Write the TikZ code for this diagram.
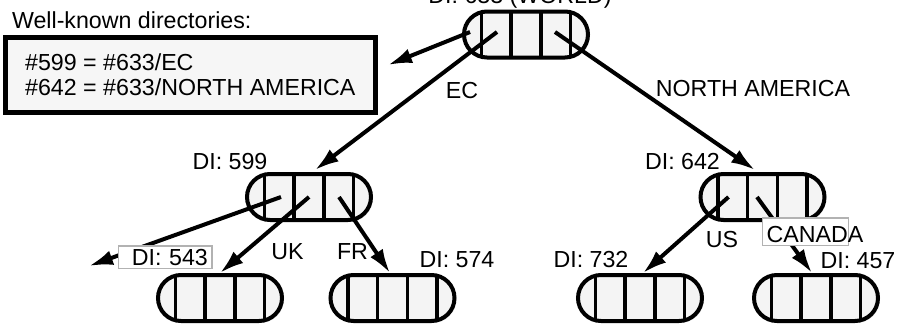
\documentclass[tikz,border=0pt]{standalone}
\usepackage{fontspec}
\setmainfont{Liberation Sans}
\usepackage{xcolor}
\usepackage{tikz}
\usetikzlibrary{arrows.meta,positioning,shadows}
\definecolor{cellgray}{HTML}{F4F4F4}
\definecolor{wkgray}{HTML}{F6F6F6}
\tikzset{
  dirnode/.style={rectangle, draw=black, fill=cellgray, line width=2pt,
    rounded corners=11.5pt, minimum width=62pt, minimum height=23pt, inner sep=0pt,
    drop shadow={shadow xshift=0.9pt, shadow yshift=-0.9pt, fill=black!18},
    path picture={
      \foreach \dx in {-22.25pt,-7.5pt,7.5pt,22.25pt}
        \draw[line width=1.8pt] ([xshift=\dx]path picture bounding box.north)
          -- ([xshift=\dx]path picture bounding box.south);
    }},
  wkbox/.style={rectangle, draw=black, line width=2.5pt, fill=wkgray,
    align=left, inner xsep=10pt, minimum height=37.5pt},
  lbl/.style={inner sep=0pt},
  tag/.style={rectangle, draw=black!30, fill=white, line width=0.6pt,
    inner xsep=2pt, inner ysep=1.5pt},
  link/.style={-{Latex[length=12pt,width=7.5pt]}, line width=2pt},
}

\begin{document}
\begin{tikzpicture}[font=\fontsize{11.6}{12.5}\selectfont]
    \useasboundingbox (0,0) rectangle (449.5pt,-163.5pt);

    \node[dirnode] (root) at (263pt,-17.25pt) {};
    \node[dirnode, below=56.25pt of root, xshift=-108.5pt] (d599) {};
    \node[dirnode, below=56.25pt of root, xshift=118.25pt] (d642) {};
    \node[dirnode, below=25.5pt of d599, xshift=-44.5pt] (d543) {};
    \node[dirnode, below=25.5pt of d599, xshift=41.75pt] (d574) {};
    \node[dirnode, below=25.5pt of d642, xshift=-61.25pt] (d732) {};
    \node[dirnode, below=25.5pt of d642, xshift=26.75pt] (d457) {};

    \node[wkbox, left=42pt of root, yshift=-20.25pt] (wk)
      {\#599 = \#633/EC\\ \#642 = \#633/NORTH AMERICA};
    \node[lbl, above right=3pt and 4.5pt of wk.north west] (wktitle) {Well-known directories:};

    \node[lbl, text depth=0pt, above=2.75pt of root, xshift=-3pt] (lworld) {DI: 633 (WORLD)};
    \node[lbl, above=1pt of d599.north, xshift=-39.5pt] (l599) {DI: 599};
    \node[lbl, above=1pt of d642.north, xshift=-40pt] (l642) {DI: 642};
    \node[lbl, above=2.5pt of d574.north, xshift=32.25pt] (l574) {DI: 574};
    \node[lbl, above=2.5pt of d732.north, xshift=-24.5pt] (l732) {DI: 732};
    \node[lbl, above=2pt of d457.north, xshift=21pt] (l457) {DI: 457};

    \node[lbl, below=11pt of root.south, xshift=-32pt] (lec) {EC};
    \node[lbl, below=10pt of root.south, xshift=113.5pt] (lna) {NORTH AMERICA};
    \node[lbl, above=6.5pt of d543.north, xshift=33.75pt] (luk) {UK};
    \node[lbl, above=6.5pt of d574.north, xshift=-20pt] (lfr) {FR};
    \node[lbl, above=12.5pt of d732.north, xshift=41pt] (lus) {US};

    \draw[link] ([xshift=-28pt,yshift=1.25pt]root.center) -- ([xshift=5pt,yshift=5pt]wk.east);
    \draw[link] ([xshift=-14.5pt,yshift=1.25pt]root.center) -- ([xshift=3pt,yshift=1pt]d599.north);
    \draw[link] ([xshift=14.5pt,yshift=1.25pt]root.center) -- ([xshift=-3.75pt,yshift=1pt]d642.north);
    \draw[link] ([xshift=-14pt]d599.center) -- ([xshift=-33.5pt,yshift=16pt]d543.west);
    \draw[link] (d599.center) -- (d543.north);
    \draw[link] ([xshift=15pt]d599.center) -- ([xshift=-1.25pt]d574.north);
    \draw[link] ([xshift=-17pt]d642.center) -- ([xshift=1.5pt]d732.north);
    \draw[link] ([xshift=-2.75pt]d642.center) -- ([xshift=-2pt]d457.north);

    \node[tag, text width=42.9pt, align=right, above=2pt of d543.north, xshift=-27.5pt] (l543) {DI: 543};
    \node[tag, text width=38.9pt, align=left, text height=10.7pt, text depth=-1.8pt,
      above=13.5pt of d457.north, xshift=-5.25pt] (lcan) {CANADA};
\end{tikzpicture}
\end{document}
